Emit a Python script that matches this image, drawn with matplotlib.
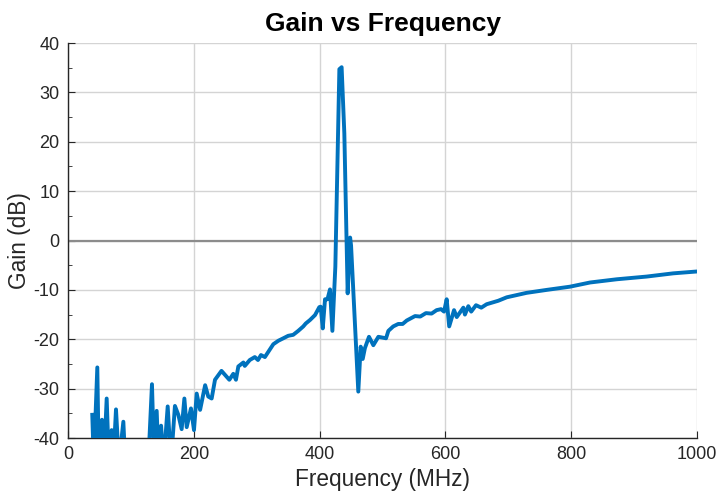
import numpy as np
import matplotlib
matplotlib.use("Agg")
import matplotlib.pyplot as plt
from matplotlib.ticker import MultipleLocator

# данные
freq_mhz = [38.6, 41, 46.6, 49, 54, 57, 61.5, 65, 69.4, 72, 76.3, 81, 88, 91,
            100, 115, 127.7, 133.5, 137, 141, 144, 148, 152, 158.5, 163.7, 170,
            175.4, 180.7, 185, 188.7, 195.5, 200.3, 204.6, 210, 218, 223, 228.4,
            233.7, 244, 256.5, 262.8, 267, 270.8, 278.8, 281, 289, 297, 302,
            306.8, 313, 326.4, 334.4, 342.3, 350, 358, 366, 374, 378, 384.7,
            392.7, 399.5, 401.7, 405, 408.6, 412.5, 416.5, 420.3, 425, 431.4, 435,
            439.3, 444.6, 448.5, 450, 461.5, 465.3, 468.5, 472, 478.5, 485.4,
            493.4, 505.6, 509.3, 517, 525, 532, 538.5, 551.7, 560, 569, 578, 586,
            593, 597.8, 602, 606, 613.7, 618, 628.5, 631, 636.4, 641, 648.6, 657,
            665.6, 684, 697.5, 729, 761, 798, 830, 872.4, 920, 962, 997]
gain_db = [-35.3, -45, -25.7, -45, -36.3, -45, -32, -45, -38.4, -45, -34.2, -45,
           -36.7, -45, -50, -50, -45, -29.1, -45, -34.5, -45, -37.5, -45, -33.6,
           -45, -33.5, -35.3, -38.2, -32, -37.8, -34, -38.4, -31, -34.3, -29.3,
           -31.6, -32, -28.2, -26.4, -28.2, -27, -28.2, -25.5, -24.7, -25.4,
           -24.2, -23.6, -24.2, -23.2, -23.6, -21, -20.3, -19.8, -19.3, -19.1,
           -18.3, -17.4, -16.8, -16.1, -15.1, -13.5, -13.4, -17.8, -11.9, -11.9,
           -9.9, -18.3, -5.3, 34.7, 35.1, 21.7, -10.7, 0.6, -1, -30.6, -21.5,
           -24, -21.8, -19.5, -21.2, -19.5, -19.8, -18.3, -17.4, -16.9, -16.9,
           -16.2, -15.3, -15.4, -14.7, -14.8, -14.1, -13.9, -14.4, -11.9, -17.4,
           -14.1, -15.5, -13.6, -15.0, -13.3, -14.4, -13.1, -13.6, -12.9, -12.2,
           -11.5, -10.6, -10, -9.35, -8.5, -7.85, -7.3, -6.65, -6.3]

plt.rcParams['font.family'] = ['Liberation Sans', 'DejaVu Sans']
plt.rcParams['axes.unicode_minus'] = False

fig = plt.figure(figsize=(7.18, 4.99), dpi=100)
ax = fig.add_axes([0.0947, 0.1222, 0.8761, 0.7916])

ax.plot(freq_mhz, gain_db, color='#0072BD', linewidth=2.8, zorder=3)
ax.axhline(0, color='#8c8c8c', linewidth=1.6, zorder=2)

ax.set_xlim(0, 1000)
ax.set_ylim(-40, 40)
ax.xaxis.set_major_locator(MultipleLocator(200))
ax.yaxis.set_major_locator(MultipleLocator(10))
ax.yaxis.set_minor_locator(MultipleLocator(5))

ax.grid(True, which='major', color='#d4d4d4', linewidth=1.0, zorder=0)
ax.set_axisbelow(True)

for side in ['top', 'right']:
    ax.spines[side].set_visible(False)
for side in ['left', 'bottom']:
    ax.spines[side].set_color('#262626')
    ax.spines[side].set_linewidth(1.0)

ax.tick_params(axis='both', which='major', direction='in', length=5,
               colors='#262626', labelsize=13, pad=6)
ax.tick_params(axis='y', which='minor', direction='in', length=3,
               colors='#262626')
ax.tick_params(axis='x', which='minor', bottom=False)

ax.set_xlabel('Frequency (MHz)', fontsize=16.3, color='#262626', labelpad=3)
ax.set_ylabel('Gain (dB)', fontsize=16.3, color='#262626', labelpad=2)
ax.set_title('Gain vs Frequency', fontsize=19, fontweight='bold', pad=9)

fig.savefig('out.png', dpi=100)
